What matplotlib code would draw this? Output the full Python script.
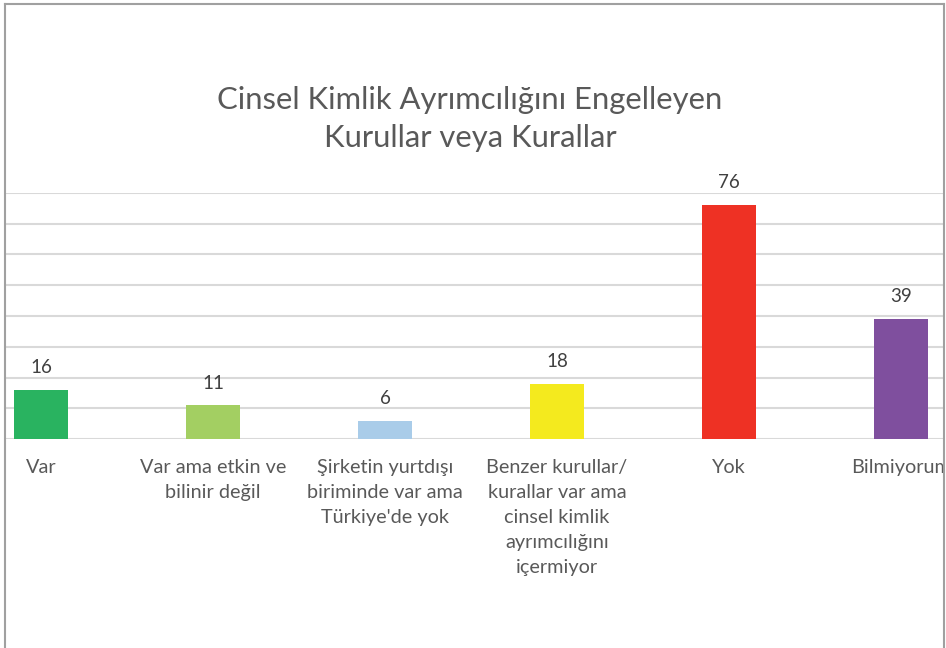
import matplotlib
matplotlib.use("Agg")
import matplotlib.pyplot as plt
from matplotlib.lines import Line2D
from matplotlib.patches import Rectangle

plt.rcParams['font.family'] = ['Lato', 'DejaVu Sans']

# veriler
categories = ["Var",
              "Var ama etkin ve\nbilinir değil",
              "Şirketin yurtdışı\nbiriminde var ama\nTürkiye'de yok",
              "Benzer kurullar/\nkurallar var ama\ncinsel kimlik\nayrımcılığını\niçermiyor",
              "Yok",
              "Bilmiyorum"]
values = [16, 11, 6, 18, 76, 39]
colors = ["#29B360", "#A3CF62", "#A9CCE9", "#F4EA1E", "#EE3124", "#7F4F9E"]
title = "Cinsel Kimlik Ayrımcılığını Engelleyen\nKurullar veya Kurallar"

W, H = 946, 648
fig = plt.figure(figsize=(W / 100, H / 100), dpi=100)

# eksen: sol 5px, sag 944px, taban 439px, ust (80) 193px
ax = fig.add_axes([5 / W, (H - 439.3) / H, 939 / W, (439.3 - 192.7) / H])
x = range(len(categories))
bars = ax.bar(x, values, width=0.314, color=colors, zorder=3)
ax.bar_label(bars, labels=[str(v) for v in values], padding=10,
             fontsize=13.5, color="#404040")

ax.set_xlim((5 - 41) / 172, (944 - 41) / 172)
ax.set_ylim(0, 80)
ax.set_yticks(range(0, 81, 10))
ax.yaxis.grid(True, color="#D9D9D9", linewidth=1.5, zorder=0)
ax.tick_params(axis="y", left=False, labelleft=False)
ax.set_xticks(list(x))
ax.set_xticklabels(categories, fontsize=14.3, color="#595959",
                   linespacing=1.57, va="top")
ax.tick_params(axis="x", length=0, pad=14)
for s in ax.spines.values():
    s.set_visible(False)

fig.text(470 / W, (H - 119) / H, title, ha="center", va="center",
         fontsize=22.3, color="#595959", linespacing=1.45)

# kenarlik
fig.add_artist(Rectangle((944.5 / W, 0), 2 / W, 1, transform=fig.transFigure,
                         facecolor="white", edgecolor="none", zorder=10))
border = dict(color="#A0A0A0", linewidth=1.5, transform=fig.transFigure, zorder=11)
fig.add_artist(Line2D([5 / W, 5 / W], [0, (H - 4) / H], **border))
fig.add_artist(Line2D([5 / W, 944 / W], [(H - 4) / H, (H - 4) / H], **border))
fig.add_artist(Line2D([944 / W, 944 / W], [0, (H - 4) / H], **border))

fig.savefig("out.png", dpi=100)
